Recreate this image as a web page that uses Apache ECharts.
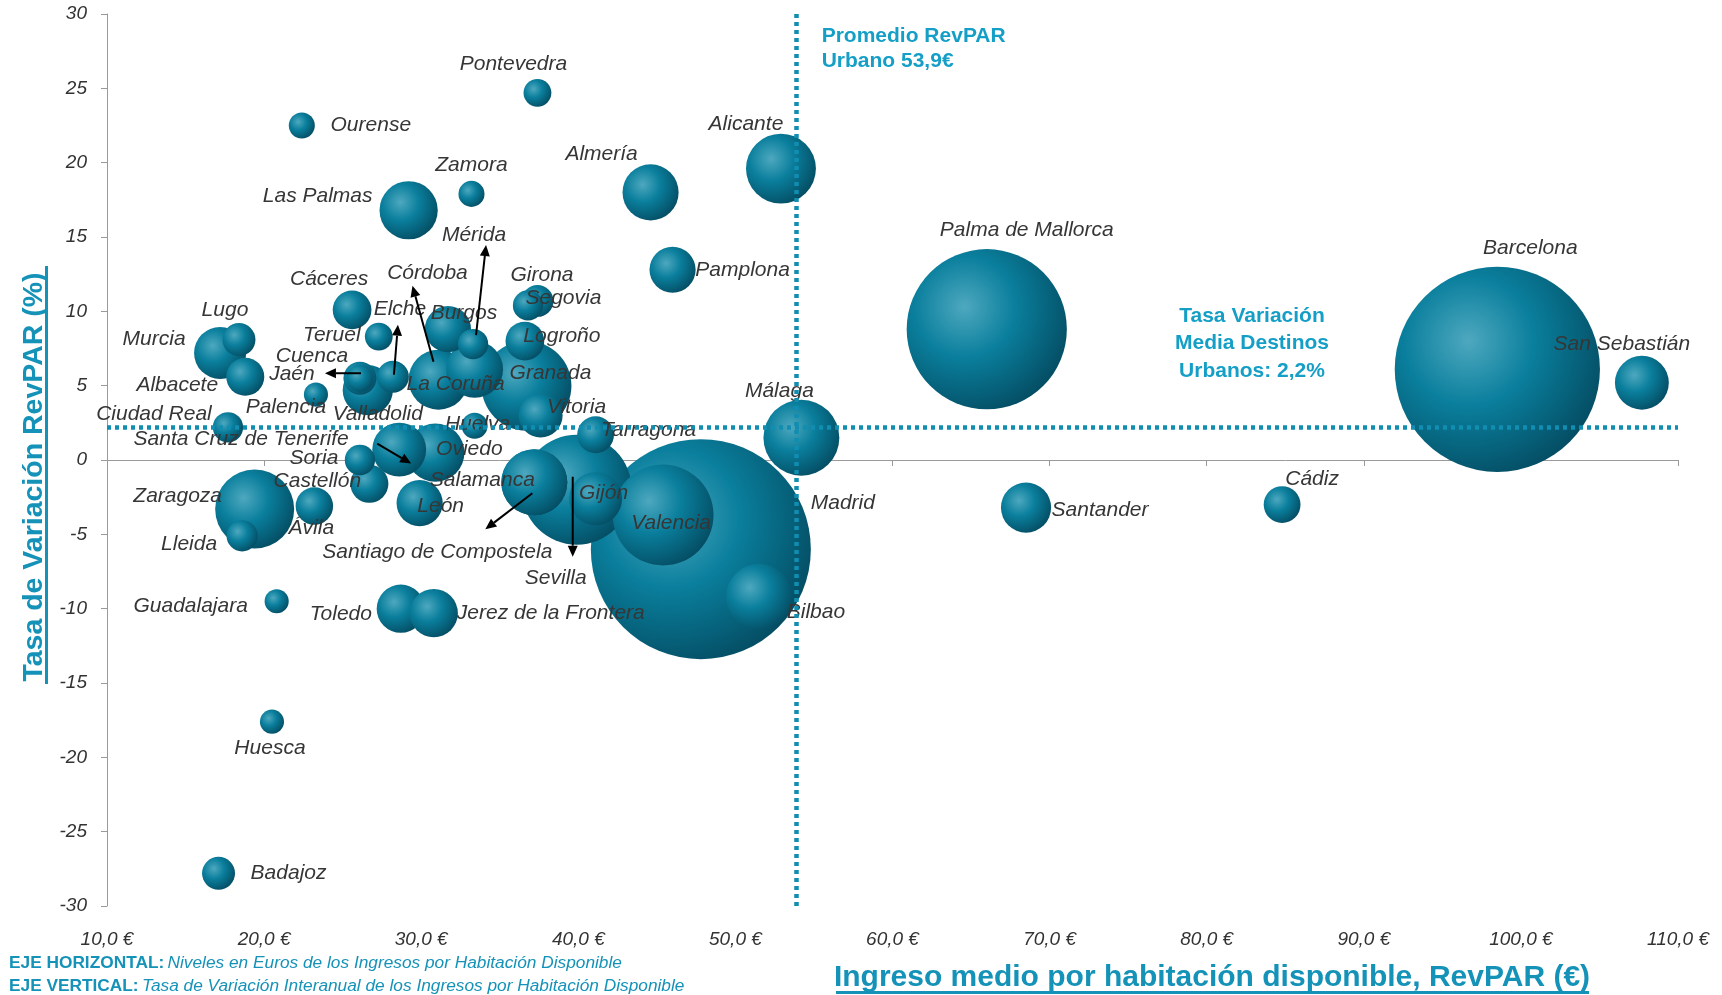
<!DOCTYPE html>
<html>
<head>
<meta charset="utf-8">
<script src="https://cdn.jsdelivr.net/npm/echarts@6/dist/echarts.min.js"></script>
<style>
html,body{margin:0;padding:0;background:#fff;}
#c{width:1722px;height:995px;}
</style>
</head>
<body>
<div id="c"></div>
<script>
// ---- DATA ----
const ciudades = ['Madrid','Barcelona','Palma de Mallorca','Sevilla','Valencia','Granada','Zaragoza','Málaga','Alicante','Bilbao','Salamanca','Santiago de Compostela','Córdoba','Las Palmas','Oviedo','La Coruña','Almería','San Sebastián','Santa Cruz de Tenerife','Gijón','Murcia','Valladolid','Santander','Toledo','Jerez de la Frontera','Burgos','León','Pamplona','Vitoria','Cáceres','Logroño','Albacete','Castellón','Ávila','Tarragona','Cádiz','Lugo','Badajoz','Jaén','Segovia','Elche','Lleida','Girona','Ciudad Real','Soria','Mérida','Cuenca','Pontevedra','Teruel','Zamora','Ourense','Huelva','Palencia','Huesca','Guadalajara'];
// RevPAR (€)
const revpar = [47.8,98.5,66.0,39.9,45.4,36.7,19.4,54.2,52.9,51.5,37.2,37.2,31.1,29.2,30.9,33.4,44.6,107.7,28.6,41.1,17.2,26.6,68.5,28.7,30.8,31.7,29.9,46.0,37.6,25.6,36.6,18.8,26.7,23.2,41.1,84.8,18.4,17.1,26.1,37.4,28.2,18.6,36.8,17.7,26.1,33.3,26.1,37.4,27.3,33.2,22.4,33.4,23.3,20.5,20.8];
// Tasa de variación RevPAR (%)
const variacion = [-6.0,6.1,8.8,-2.0,-3.7,5.0,-3.3,1.5,19.6,-9.2,-1.5,-1.5,5.4,16.8,0.5,6.1,18.0,5.2,0.7,-2.6,7.2,4.7,-3.2,-10.0,-10.3,8.8,-2.9,12.8,3.0,10.1,8.0,5.6,-1.6,-3.1,1.7,-3.0,8.1,-27.8,5.5,10.7,5.6,-5.1,10.4,2.2,0.0,7.8,5.5,24.7,8.3,17.9,22.5,2.3,4.4,-17.6,-9.5];
// Tamaño relativo de la burbuja (Madrid = 100)
const tamano = [100,87,53,25,21,16.7,12.9,11.9,10.1,9.0,9.0,9.0,7.4,7.0,7.0,6.7,6.5,6.0,6.0,5.8,5.6,5.2,5.2,4.8,4.8,4.4,4.4,4.4,4.0,3.1,3.1,3.0,3.0,2.9,2.8,2.8,2.25,2.25,2.25,2.1,2.1,2.0,1.9,1.9,1.9,1.9,1.5,1.6,1.6,1.4,1.4,1.4,1.2,1.2,1.2];
const xTicks = {min:10, max:110, interval:10};
const yTicks = {min:-30, max:30, interval:5};
const promedioRevpar = 53.9;
const mediaVariacion = 2.2;

// ---- label placement (px offsets from bubble centre) ----
const etiquetaOffset = {
 'Pontevedra':[-24,-29],'Ourense':[69,0],'Zamora':[0,-29],'Las Palmas':[-91,-14],'Almería':[-49,-38],
 'Alicante':[-35,-44],'Mérida':[1,-109],'Girona':[14,-30],'Segovia':[26,-3],'Pamplona':[70,0],
 'Palma de Mallorca':[40,-99],'Barcelona':[33,-121],'San Sebastián':[-20,-39],'Cáceres':[-23,-31],
 'Córdoba':[-11,-107],'Lugo':[-14,-29],'Elche':[7,-68],'Burgos':[16,-16],'Teruel':[-47,-1],
 'Logroño':[37,-5],'Murcia':[-66,-14],'Cuenca':[-48,-22],'Jaén':[-68,-4],'La Coruña':[-19,15],
 'Granada':[24,-13],'Albacete':[-68,8],'Málaga':[-22,-47],'Palencia':[-30,13],'Valladolid':[10,24],
 'Ciudad Real':[-74,-13],'Huelva':[3,-2],'Vitoria':[36,-8],'Tarragona':[53,-5],
 'Santa Cruz de Tenerife':[-158,-10],'Oviedo':[34,-3],'Soria':[-46,-2],'Castellón':[-52,-3],
 'Salamanca':[-52,-2],'Zaragoza':[-77,-13],'Gijón':[8,-5],'Cádiz':[30,-25],'León':[21,3],
 'Madrid':[142,-46],'Ávila':[-3,22],'Valencia':[8,8],'Santander':[74,3],'Lleida':[-53,8],
 'Santiago de Compostela':[-97,70],'Sevilla':[-21,88],'Guadalajara':[-86,5],'Toledo':[-60,5],
 'Jerez de la Frontera':[117,0],'Bilbao':[57,15],'Huesca':[-2,27],'Badajoz':[70,0]
};
// arrows: [city, startDx, startDy, tipDx, tipDy] relative to bubble centre (px)
const flechas = [
 ['Mérida',3,-9,13,-99],
 ['Córdoba',-5,-18,-26,-94],
 ['Elche',1,-2,5,-52],
 ['Jaén',1,-5,-35,-5],
 ['Santa Cruz de Tenerife',-22,-6,12,14],
 ['Santiago de Compostela',-2,11,-49,47],
 ['Sevilla',-4,-13,-4,67]
];

const TEAL = '#1592b8';
const LINE = '#118db1';
const FONT = '"Liberation Sans", Arial, Helvetica, sans-serif';

const order = ciudades.map((c,i)=>i).sort((a,b)=>tamano[b]-tamano[a]);
const bubbleColor = new echarts.graphic.RadialGradient(0.36,0.36,0.7,[
  {offset:0,color:'#4ea8bf'},
  {offset:0.45,color:'#0a7f9d'},
  {offset:1,color:'#044d63'}
]);
const data = order.map(i=>({
  name: ciudades[i],
  value:[revpar[i], variacion[i], tamano[i]],
  label:{offset: etiquetaOffset[ciudades[i]] || [0,0]}
}));

const chart = echarts.init(document.getElementById('c'), null, {renderer:'canvas'});
const eur = v => v.toFixed(1).replace('.', ',') + ' €';

const option = {
  animation:false,
  backgroundColor:'#fff',
  grid:{left:107, right:44, top:14, bottom:89, containLabel:false},
  xAxis:[
    {type:'value', min:xTicks.min, max:xTicks.max, interval:xTicks.interval,
     axisLine:{show:true, onZero:true, lineStyle:{color:'#9a9a9a', width:1}},
     axisTick:{show:true, length:6, lineStyle:{color:'#9a9a9a'}},
     axisLabel:{show:false}, splitLine:{show:false}},
    {type:'value', position:'bottom', min:xTicks.min, max:xTicks.max, interval:xTicks.interval,
     axisLine:{show:false, onZero:false}, axisTick:{show:false}, splitLine:{show:false},
     axisLabel:{show:true, margin:24, formatter:eur, fontStyle:'italic', fontSize:19, color:'#333', fontFamily:FONT}}
  ],
  yAxis:{type:'value', min:yTicks.min, max:yTicks.max, interval:yTicks.interval,
     axisLine:{show:true, onZero:false, lineStyle:{color:'#9a9a9a', width:1}},
     axisTick:{show:true, length:6, lineStyle:{color:'#9a9a9a'}},
     splitLine:{show:false},
     axisLabel:{margin:20, fontStyle:'italic', fontSize:19, color:'#333', fontFamily:FONT}},
  series:[{
    type:'scatter', xAxisIndex:0, yAxisIndex:0,
    data:data,
    symbol:'circle',
    symbolSize: v => 2*110*Math.sqrt(v[2]/100),
    itemStyle:{color:bubbleColor, opacity:1},
    emphasis:{disabled:true},
    label:{show:true, position:'inside', formatter:p=>p.name, fontStyle:'italic', fontSize:21,
           color:'#363636', fontFamily:FONT, align:'center', verticalAlign:'middle'},
    markLine:{silent:true, symbol:['none','none'], z:5, label:{show:false},
      lineStyle:{color:LINE, width:4.5, type:[4,4]},
      data:[{xAxis:promedioRevpar},{yAxis:mediaVariacion}]}
  }]
};
chart.setOption(option);

// ---- annotations ----
const g = [];
flechas.forEach(([name,sx,sy,ex,ey])=>{
  const i = ciudades.indexOf(name);
  const p = chart.convertToPixel({xAxisIndex:0,yAxisIndex:0},[revpar[i],variacion[i]]);
  const x1=p[0]+sx, y1=p[1]+sy, x2=p[0]+ex, y2=p[1]+ey;
  const dx=x2-x1, dy=y2-y1, L=Math.hypot(dx,dy), ux=dx/L, uy=dy/L;
  const hl=11, hw=5;
  const bx=x2-ux*hl, by=y2-uy*hl;
  g.push({type:'line', z:100, shape:{x1:x1,y1:y1,x2:bx,y2:by}, style:{stroke:'#000', lineWidth:2}});
  g.push({type:'polygon', z:100, shape:{points:[[x2,y2],[bx-uy*hw,by+ux*hw],[bx+uy*hw,by-ux*hw]]}, style:{fill:'#000'}});
});
const px = chart.convertToPixel({xAxisIndex:0,yAxisIndex:0},[promedioRevpar, mediaVariacion]);
g.push({type:'text', z:100, x:px[0]+25, y:24, style:{text:'Promedio RevPAR\nUrbano 53,9€', fill:'#159fc6', font:'bold 21px '+FONT, lineHeight:25, align:'left', verticalAlign:'top'}});
g.push({type:'text', z:100, x:1252, y:302, style:{text:'Tasa Variación\nMedia Destinos\nUrbanos: 2,2%', fill:'#159fc6', font:'bold 21px '+FONT, lineHeight:27.5, align:'center', verticalAlign:'top'}});
// axis titles
g.push({type:'text', z:100, x:34, y:477, rotation:Math.PI/2, style:{text:'Tasa de Variación RevPAR (%)', fill:TEAL, font:'bold 28.5px '+FONT, align:'center', verticalAlign:'middle'}});
g.push({type:'rect', z:100, shape:{x:45, y:266, width:3, height:418}, style:{fill:TEAL}});
g.push({type:'text', z:100, x:1212, y:978, style:{text:'Ingreso medio por habitación disponible, RevPAR (€)', fill:TEAL, font:'bold 30px '+FONT, align:'center', verticalAlign:'middle'}});
g.push({type:'rect', z:100, shape:{x:836, y:991, width:753, height:3}, style:{fill:TEAL}});
// footnotes
g.push({type:'text', z:100, x:9, y:963, style:{text:'{b|EJE HORIZONTAL:} {i|Niveles en Euros de los Ingresos por Habitación Disponible}', align:'left', verticalAlign:'middle',
  rich:{b:{font:'bold 17.3px '+FONT, fill:TEAL}, i:{font:'italic 17.3px '+FONT, fill:TEAL}}}});
g.push({type:'text', z:100, x:9, y:986, style:{text:'{b|EJE VERTICAL:} {i|Tasa de Variación Interanual de los Ingresos por Habitación Disponible}', align:'left', verticalAlign:'middle',
  rich:{b:{font:'bold 17.3px '+FONT, fill:TEAL}, i:{font:'italic 17.3px '+FONT, fill:TEAL}}}});
chart.setOption({graphic:{elements:g}});
</script>
</body>
</html>
